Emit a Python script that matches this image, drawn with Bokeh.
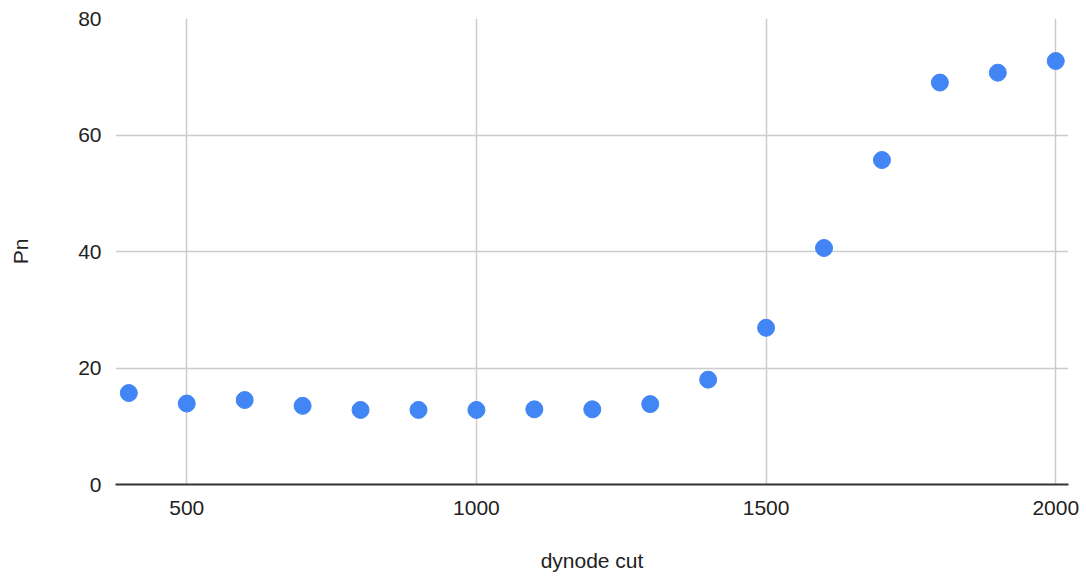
from bokeh.plotting import figure
from bokeh.models import FixedTicker, Range1d
from bokeh.embed import file_html
from bokeh.resources import INLINE

# dynode cut vs Pn
dynode_cut = [400, 500, 600, 700, 800, 900, 1000, 1100, 1200,
              1300, 1400, 1500, 1600, 1700, 1800, 1900, 2000]
pn = [15.7, 13.9, 14.5, 13.5, 12.8, 12.8, 12.8, 12.9, 12.9,
      13.8, 18.0, 26.9, 40.6, 55.7, 69.0, 70.7, 72.7]

x_ticks = [500, 1000, 1500, 2000]
y_ticks = [0, 20, 40, 60, 80]

FONT = "Liberation Sans"
TEXT = "#222222"

p = figure(width=1087, height=578, output_backend="svg", toolbar_location=None,
           x_range=Range1d(377, 2022), y_range=Range1d(0, 80),
           min_border_left=115, min_border_right=19,
           min_border_top=18, min_border_bottom=94)
p.outline_line_color = None
p.background_fill_color = "white"
p.border_fill_color = "white"

p.scatter(dynode_cut, pn, size=17, color="#4285F4", line_color="#4285F4")

# axes
p.xaxis.ticker = FixedTicker(ticks=x_ticks)
p.yaxis.ticker = FixedTicker(ticks=y_ticks)
for ax in (p.xaxis[0], p.yaxis[0]):
    ax.major_tick_line_color = None
    ax.minor_tick_line_color = None
    ax.major_label_text_font = FONT
    ax.major_label_text_font_size = "21px"
    ax.major_label_text_color = TEXT
    ax.axis_label_text_font = FONT
    ax.axis_label_text_font_size = "21px"
    ax.axis_label_text_font_style = "normal"
    ax.axis_label_text_color = TEXT

p.xaxis.axis_label = "dynode cut"
p.xaxis.axis_line_color = "#333333"
p.xaxis.axis_line_width = 2
p.xaxis.major_label_standoff = 10
p.xaxis.axis_label_standoff = 31

p.yaxis.axis_label = "Pn"
p.yaxis.axis_line_color = None
p.yaxis.major_label_standoff = 8
p.yaxis.axis_label_standoff = 43

# grid
p.xgrid.grid_line_color = "#cccccc"
p.ygrid.grid_line_color = "#cccccc"
p.xgrid.grid_line_width = 1.5
p.ygrid.grid_line_width = 1.5

open("out.html", "w").write(file_html(p, INLINE))
